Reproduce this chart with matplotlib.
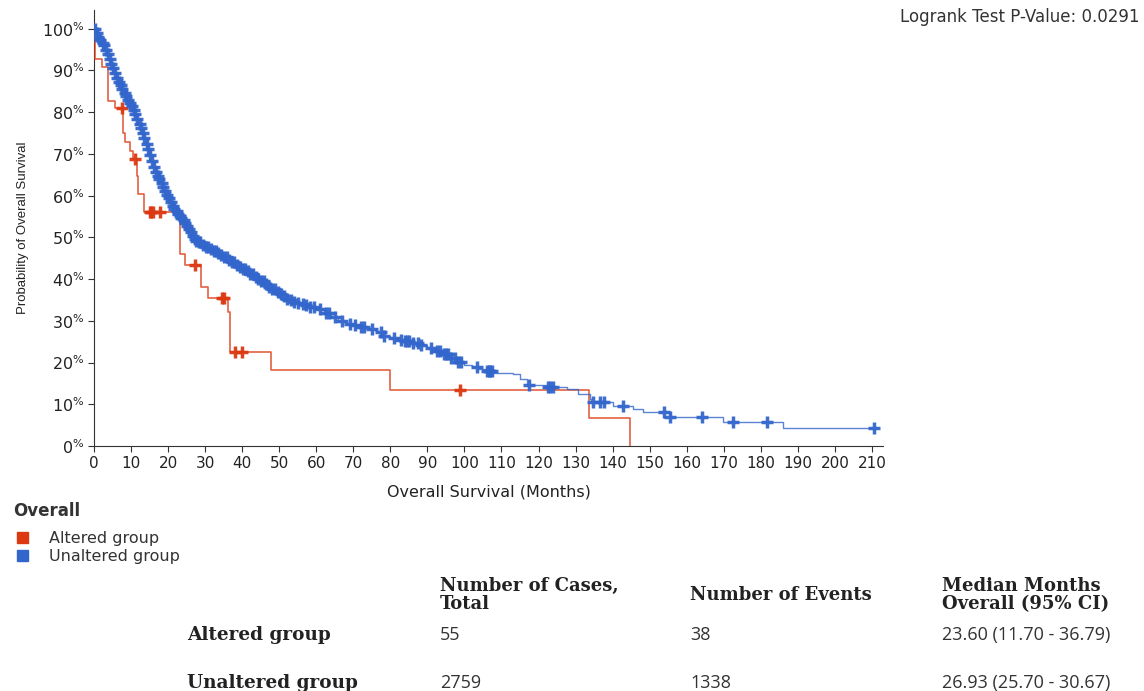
import numpy as np
import matplotlib
matplotlib.use("Agg")
import matplotlib.pyplot as plt

plt.rcParams['font.family'] = ['DejaVu Sans']
plt.rcParams['mathtext.default'] = 'regular'

# Kaplan-Meier knots (months, survival %)
altered_t = [0, 0.4, 2.1, 3.9, 5.7, 7.8, 8.4, 9.7, 10.4, 11.6, 11.9, 13.5,
             23.2, 24.6, 28.9, 30.9, 36.3, 36.7, 47.7, 79.9, 133.6, 144.7]
altered_s = [100, 92.7, 90.9, 82.7, 80.9, 74.9, 72.9, 70.8, 68.8, 64.6, 60.4, 56.2,
             46.0, 43.4, 38.1, 35.5, 32.1, 22.6, 18.1, 13.5, 6.7, 0]
altered_cens = [7.5, 11.2, 15.0, 15.5, 15.8, 17.8, 27.4, 34.5, 35.1, 38.1, 39.9, 98.9]

unaltered_t = [0, 0.5, 1, 1.5, 2, 2.5, 3, 3.5, 4, 4.5, 5, 5.5, 6, 6.5, 7, 7.5, 8, 8.5,
               9, 9.5, 10, 10.5, 11, 11.5, 12, 12.5, 13, 13.5, 14, 14.5, 15, 15.5, 16,
               16.5, 17, 17.5, 18, 18.5, 19, 19.5, 20, 20.5, 21, 21.5, 22, 22.5, 23,
               23.5, 24, 24.5, 25, 25.5, 26, 26.5, 27, 27.5, 28, 29, 30, 31, 32, 33,
               34, 35, 36, 37, 38, 39, 40, 41, 42, 43, 44, 45, 46, 47, 48, 49, 50, 51,
               52, 53, 54, 55, 56, 57, 58, 60, 62, 64, 66, 68, 70, 72, 74, 76, 78, 80,
               82, 84, 86, 88, 90, 92, 94, 96, 98, 100, 102, 104, 106, 108, 113, 115,
               117, 122, 127.6, 130.7, 133.9, 134.3, 140.2, 145.6, 148.3, 155.5,
               169.9, 186.0, 211.3]
unaltered_s = [100, 99.0, 98.0, 97.3, 96.6, 96.0, 95.0, 94.0, 92.8, 91.6, 90.5, 89.3,
               88.2, 87.3, 86.5, 85.5, 84.6, 83.8, 83.0, 82.3, 81.6, 80.6, 79.5, 78.4,
               77.2, 76.1, 75.0, 73.8, 72.5, 71.2, 69.8, 68.2, 66.8, 65.7, 64.8, 63.9,
               63.0, 62.0, 61.0, 60.2, 59.4, 58.5, 57.6, 56.9, 56.3, 55.7, 55.2, 54.7,
               54.2, 53.5, 52.8, 52.0, 51.3, 50.4, 49.5, 49.1, 48.8, 48.2, 47.6, 47.1,
               46.7, 46.3, 45.8, 45.2, 44.6, 44.0, 43.5, 43.0, 42.4, 41.9, 41.3, 40.6,
               40.1, 39.5, 38.8, 38.2, 37.6, 37.0, 36.4, 35.9, 35.3, 34.9, 34.6, 34.3,
               34.0, 33.7, 33.4, 32.8, 31.9, 30.8, 30.0, 29.3, 28.9, 28.6, 28.1, 27.3,
               26.3, 25.9, 25.5, 25.1, 24.8, 24.3, 23.5, 22.7, 22.0, 21.0, 20.2, 19.4,
               18.9, 18.5, 17.9, 17.5, 17.2, 16.1, 14.6, 14.1, 13.7, 12.5, 11.3, 10.5,
               9.7, 8.9, 8.1, 6.9, 5.7, 4.2, 4.2]
unaltered_cens = [0.3, 0.8, 1.2, 1.7, 2.3, 2.8, 3.2, 3.7, 4.3, 4.6, 5.2, 5.6, 6.3, 6.7,
                  7.2, 7.6, 8.3, 8.7, 9.2, 9.6, 10.3, 10.7, 11.2, 11.6, 12.3, 12.7, 13.2,
                  13.6, 14.3, 14.7, 15.2, 15.6, 16.3, 16.7, 17.2, 17.6, 18.3, 18.7, 19.2,
                  19.6, 20.3, 20.7, 21.2, 21.6, 22.3, 22.7, 23.2, 23.6, 24.3, 24.7, 25.2,
                  25.6, 26.3, 26.7, 27.2, 27.6, 28.3, 28.7, 29.4, 30.2, 30.8, 31.5, 32.3,
                  32.9, 33.6, 34.4, 35.1, 35.8, 36.5, 37.2, 37.9, 38.6, 39.3, 40.1, 40.8,
                  41.5, 42.2, 42.9, 43.6, 44.3, 45.1, 45.8, 46.5, 47.3, 48.1, 48.9, 49.7,
                  50.5, 51.4, 52.2, 53.1, 54.0, 55.2, 56.4, 57.3, 58.4, 59.5, 61.0, 62.5,
                  63.5, 65.0, 67.0, 69.0, 70.5, 72.0, 73.0, 75.0, 77.5, 78.2, 81.0, 83.0,
                  84.0, 84.5, 85.0, 86.0, 87.5, 88.2, 91.0, 92.5, 93.5, 94.5, 95.0, 95.5,
                  96.5, 97.5, 98.2, 99.0, 103.5, 106.0, 106.5, 107.0, 107.5, 117.3, 122.5,
                  123.0, 123.8, 134.8, 136.7, 137.6, 142.8, 153.9, 155.6, 164.1, 172.4,
                  181.8, 210.7]

groups = ["Altered group", "Unaltered group"]
colors = ["#dc3912", "#3366cc"]
n_cases = ["55", "2759"]
n_events = ["38", "1338"]
medians = ["23.60 (11.70 - 36.79)", "26.93 (25.70 - 30.67)"]
pvalue = "0.0291"

fig = plt.figure(figsize=(11.44, 6.91), dpi=100)
ax = fig.add_axes([94 / 1144, 1 - 446 / 691, (883 - 94) / 1144, (446 - 10) / 691])


def step_value(times, surv, x):
    idx = np.searchsorted(times, x, side="right") - 1
    return np.asarray(surv)[idx]


series = [(altered_t, altered_s, altered_cens), (unaltered_t, unaltered_s, unaltered_cens)]
for (t, s, c), col, lw, ms in zip(series, colors, [1.2, 1.0], [8, 9]):
    ax.step(t, s, where="post", color=col, lw=lw, alpha=0.8, zorder=3)
    ax.plot(c, step_value(t, s, c), ls="none", marker="+", ms=ms, mew=2.5,
            color=col, alpha=0.95, zorder=4)

ax.set_xlim(0, 213)
ax.set_ylim(0, 104.5)
ax.set_xticks(range(0, 211, 10))
ax.set_yticks(range(0, 101, 10))
ax.set_yticklabels([f"{v}$^{{\\%}}$" for v in range(0, 101, 10)])
ax.tick_params(axis="x", labelsize=11, length=4, color="#333333", labelcolor="#222222",
               pad=3)
ax.tick_params(axis="y", labelsize=11.5, length=4, color="#333333", labelcolor="#222222",
               pad=3)
for side in ["top", "right"]:
    ax.spines[side].set_visible(False)
for side in ["left", "bottom"]:
    ax.spines[side].set_color("#333333")
ax.set_xlabel("Overall Survival (Months)", fontsize=11.5, color="#222222", labelpad=10)
ax.set_ylabel("Probability of Overall Survival", fontsize=9.5, color="#222222",
              family=["Liberation Sans", "DejaVu Sans"])
ax.yaxis.set_label_coords(-0.083, 0.5)

fig.text(1140 / 1144, 1 - 17 / 691, "Logrank Test P-Value: " + pvalue, ha="right",
         va="center", fontsize=12, color="#333333")

# legend
fig.text(13 / 1144, 1 - 511 / 691, "Overall", fontsize=12, weight="bold",
         color="#333333", va="center")
for i, (g, col) in enumerate(zip(groups, colors)):
    y = 1 - (538 + 18 * i) / 691
    fig.patches.append(plt.Rectangle((17 / 1144, y - 5 / 691), 11 / 1144, 11 / 691,
                                     transform=fig.transFigure, color=col))
    fig.text(49 / 1144, y, g, fontsize=11.5, color="#333333", va="center")

# summary table
serif = ["DejaVu Serif"]
headers = ["Number of Cases,\nTotal", "Number of Events", "Median Months\nOverall (95% CI)"]
col_x = [440, 690, 942]
for h, x in zip(headers, col_x):
    fig.text(x / 1144, 1 - 595 / 691, h, fontsize=13, weight="bold", family=serif,
             va="center", color="#222222", linespacing=0.95)
for i, g in enumerate(groups):
    y = 1 - (635 + 48 * i) / 691
    fig.text(187 / 1144, y, g, fontsize=13.3, weight="bold", family=serif,
             va="center", color="#222222")
    for v, x in zip([n_cases[i], n_events[i], medians[i]], col_x):
        fig.text(x / 1144, y, v, fontsize=13, va="center", color="#333333",
                 family=["Open Sans", "DejaVu Sans"])

fig.savefig("out.png", dpi=100)
